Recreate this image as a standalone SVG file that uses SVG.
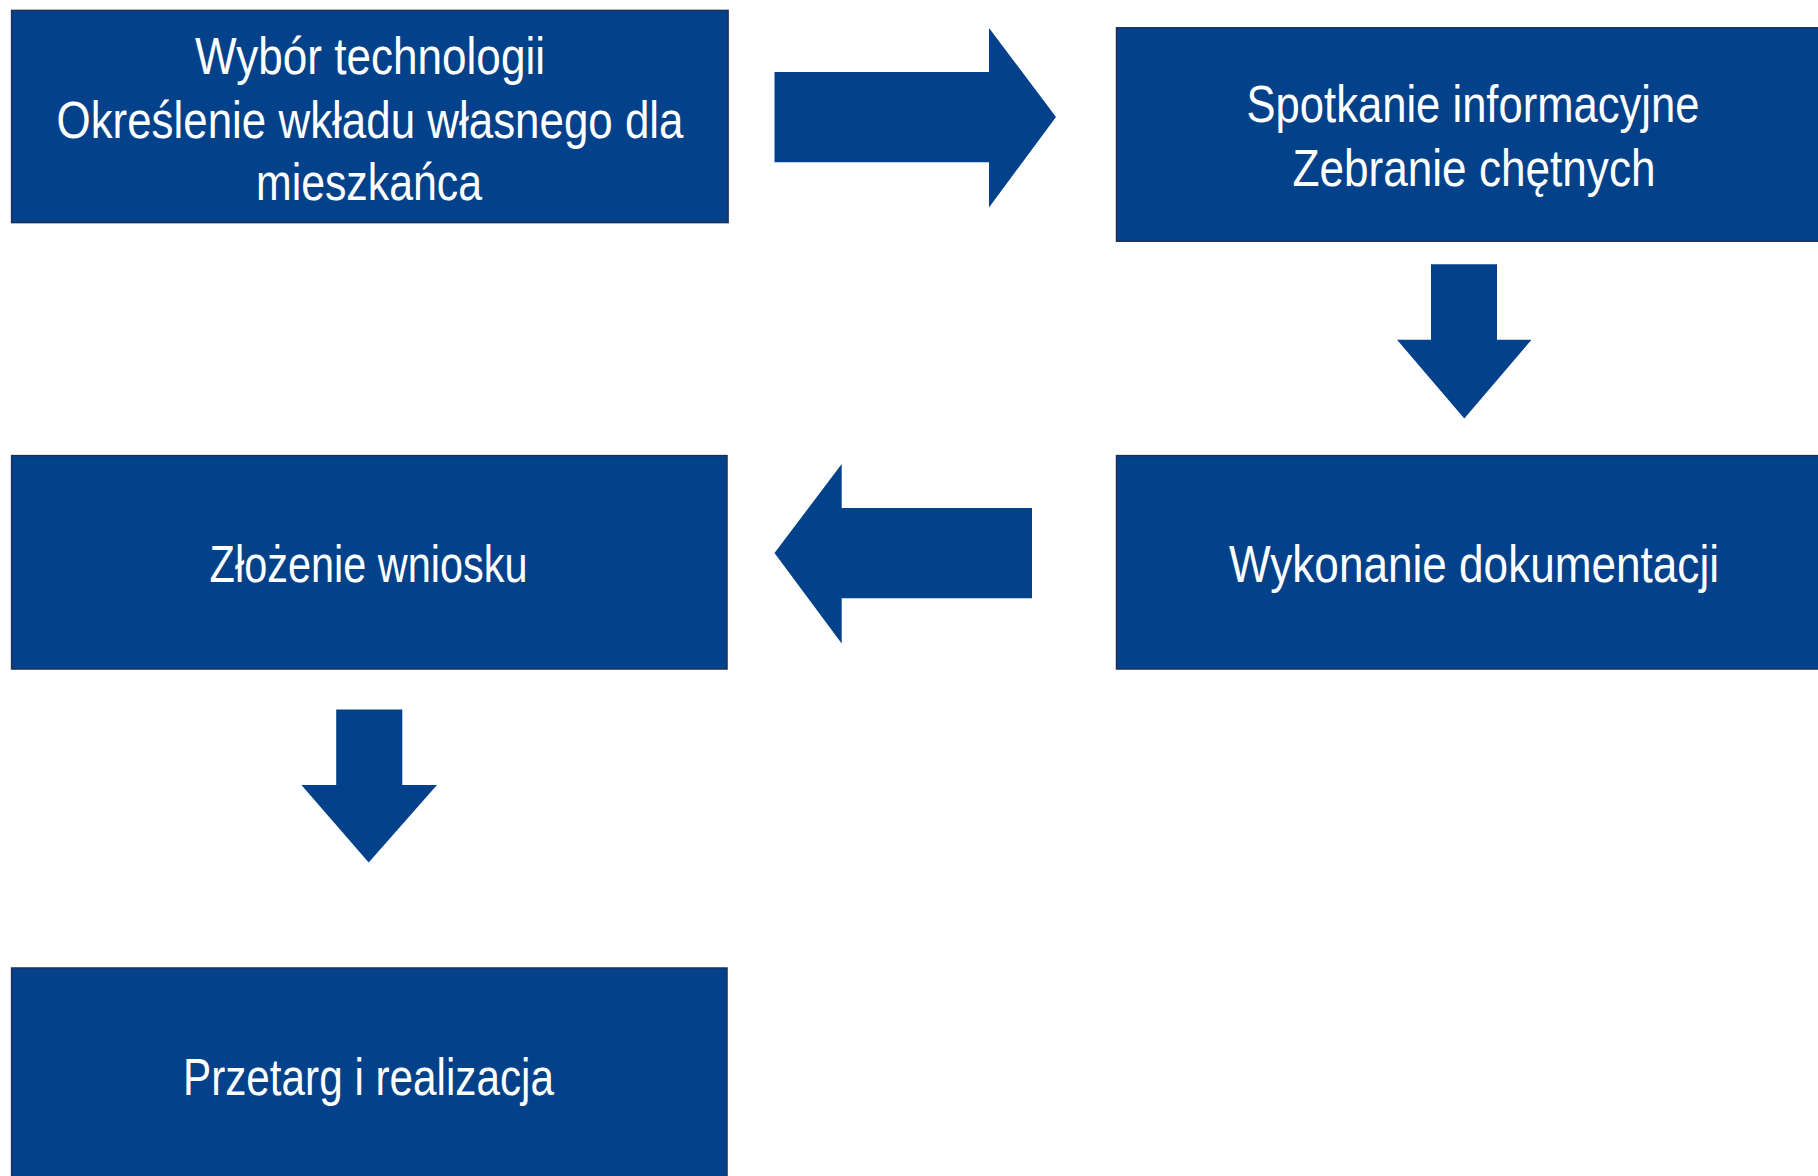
<svg xmlns="http://www.w3.org/2000/svg" width="1818" height="1176" viewBox="0 0 1818 1176">
<style>
.box{fill:#03428a;stroke:#1c2f57;stroke-width:1.5}
.arr{fill:#03428a}
.t{font-family:"Liberation Sans",Arial,sans-serif;font-size:52px;fill:#ffffff;text-anchor:middle}
</style>
<rect width="1818" height="1176" fill="#ffffff"/>
<g id="connectors">
<path class="arr" d="M774.5,72 H989 V28 L1056,117 L989,207.5 V162.3 H774.5 Z"/>
<path class="arr" d="M1431,264.3 H1497 V339.7 H1531.5 L1464.3,418.5 L1397,339.7 H1431 Z"/>
<path class="arr" d="M1032,508 H841.7 V464 L774.5,553 L841.7,643.5 V598.2 H1032 Z"/>
<path class="arr" d="M336.2,709.5 H402.3 V785 H437 L368.7,862.6 L301.4,785 H336.2 Z"/>
</g>
<g id="n1">
<rect class="box" x="11.6" y="10.4" width="716.5" height="212.2"/>
<text class="t" x="370" y="74" textLength="350" lengthAdjust="spacingAndGlyphs">Wybór technologii</text>
<text class="t" x="370" y="138" textLength="627" lengthAdjust="spacingAndGlyphs">Określenie wkładu własnego dla</text>
<text class="t" x="369" y="200" textLength="226" lengthAdjust="spacingAndGlyphs">mieszkańca</text>
</g>
<g id="n2">
<rect class="box" x="1116.5" y="27.8" width="716" height="213.4"/>
<text class="t" x="1473" y="122" textLength="453" lengthAdjust="spacingAndGlyphs">Spotkanie informacyjne</text>
<text class="t" x="1474" y="185.5" textLength="363" lengthAdjust="spacingAndGlyphs">Zebranie chętnych</text>
</g>
<g id="n3">
<rect class="box" x="1116.5" y="455.6" width="716" height="213.4"/>
<text class="t" x="1474" y="582" textLength="490" lengthAdjust="spacingAndGlyphs">Wykonanie dokumentacji</text>
</g>
<g id="n4">
<rect class="box" x="11.6" y="455.6" width="715.4" height="213.4"/>
<text class="t" x="368.6" y="582" textLength="318" lengthAdjust="spacingAndGlyphs">Złożenie wniosku</text>
</g>
<g id="n5">
<rect class="box" x="11.6" y="968" width="715.4" height="220"/>
<text class="t" x="368.5" y="1094.5" textLength="371" lengthAdjust="spacingAndGlyphs">Przetarg i realizacja</text>
</g>
</svg>
